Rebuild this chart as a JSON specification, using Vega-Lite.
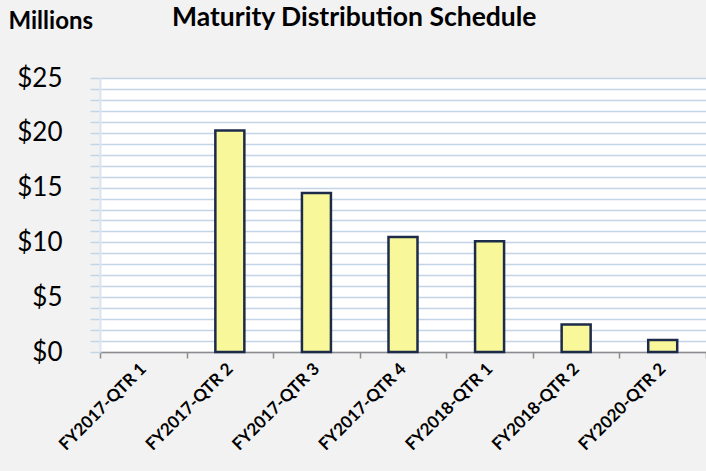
{
  "$schema": "https://vega.github.io/schema/vega-lite/v6.json",
  "width": 606,
  "height": 274,
  "autosize": "none",
  "padding": {"left": 100, "top": 78, "right": 0, "bottom": 119},
  "background": "#f2f2f2",
  "config": {
    "view": {"fill": "white", "stroke": null},
    "font": "Lato"
  },
  "title": {
    "text": "Maturity Distribution Schedule",
    "anchor": "start",
    "frame": "group",
    "dx": 72,
    "offset": -22,
    "font": "Lato",
    "fontSize": 26.5,
    "fontWeight": "bold",
    "color": "#000000"
  },
  "data": {
    "values": [
      {"quarter": "FY2017-QTR 1", "amount": 0},
      {"quarter": "FY2017-QTR 2", "amount": 20.2},
      {"quarter": "FY2017-QTR 3", "amount": 14.5},
      {"quarter": "FY2017-QTR 4", "amount": 10.5},
      {"quarter": "FY2018-QTR 1", "amount": 10.1},
      {"quarter": "FY2018-QTR 2", "amount": 2.5},
      {"quarter": "FY2020-QTR 2", "amount": 1.1}
    ]
  },
  "mark": {"type": "bar", "fill": "#f8f89a", "stroke": "#1c2b4a", "strokeWidth": 2.5, "size": 29},
  "encoding": {
    "x": {
      "field": "quarter",
      "type": "nominal",
      "sort": null,
      "scale": {"paddingInner": 0, "paddingOuter": 0},
      "axis": {
        "title": null,
        "tickBand": "extent",
        "domainColor": "#8c8c8c",
        "domainWidth": 1.5,
        "tickColor": "#8c8c8c",
        "tickWidth": 1.5,
        "tickSize": 6,
        "labelAngle": -45,
        "labelAlign": "right",
        "labelBaseline": "middle",
        "labelFont": "Lato",
        "labelFontWeight": "bold",
        "labelFontSize": 17,
        "labelColor": "#000000",
        "labelPadding": 8,
        "grid": false
      }
    },
    "y": {
      "field": "amount",
      "type": "quantitative",
      "scale": {"domain": [0, 25], "nice": false},
      "axis": {
        "title": "Millions",
        "titleAngle": 0,
        "titleX": -92,
        "titleY": -50,
        "titleAlign": "left",
        "titleBaseline": "alphabetic",
        "titleFont": "Lato",
        "titleFontSize": 24,
        "titleFontWeight": "bold",
        "titleColor": "#000000",
        "values": [0,1,2,3,4,5,6,7,8,9,10,11,12,13,14,15,16,17,18,19,20,21,22,23,24,25],
        "labelExpr": "datum.value % 5 == 0 ? '$' + datum.value : ''",
        "labelFont": "Lato",
        "labelFontSize": 26,
        "labelColor": "#000000",
        "labelPadding": 28,
        "grid": true,
        "gridColor": "#c4d4e8",
        "gridWidth": 1.5,
        "domainColor": "#dbe5f1",
        "domainWidth": 2,
        "tickColor": "#c4d4e8",
        "tickWidth": 1.5,
        "tickSize": 10
      }
    },
    "strokeOpacity": {
      "condition": {"test": "datum.amount > 0", "value": 1},
      "value": 0
    }
  }
}
